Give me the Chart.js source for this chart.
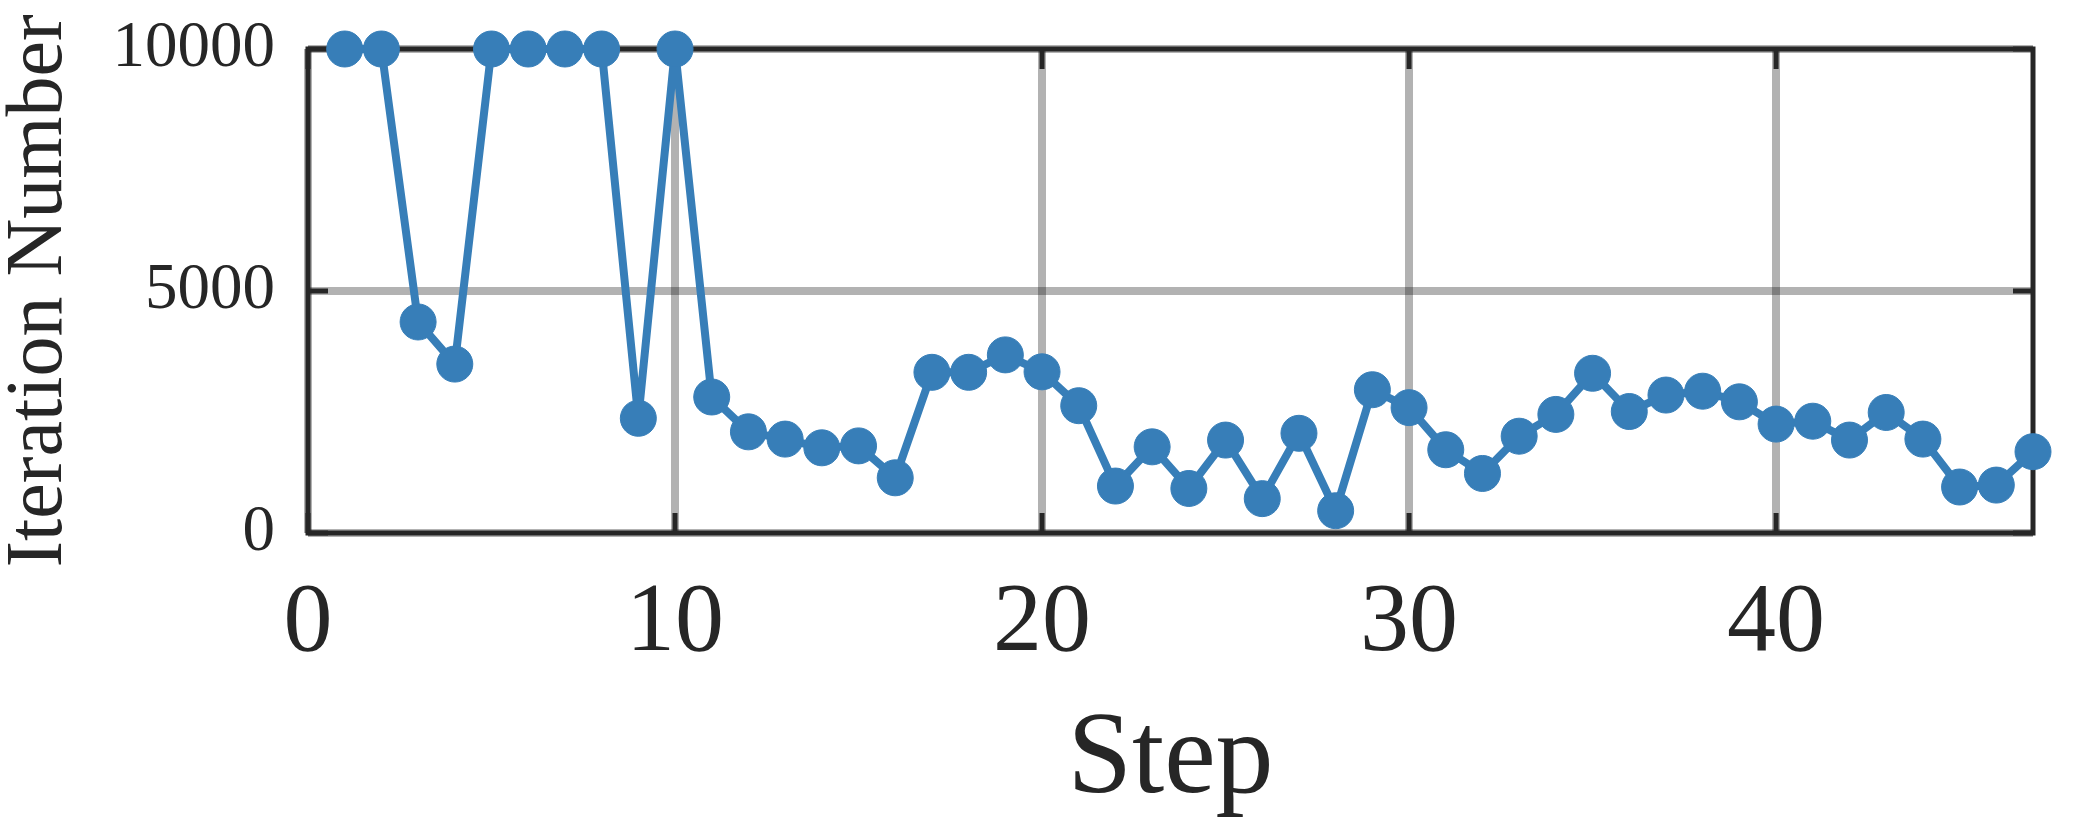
<!DOCTYPE html>
<html>
<head>
<meta charset="utf-8">
<script src="https://cdn.jsdelivr.net/npm/chart.js@4.4.1/dist/chart.umd.min.js"></script>
<style>
  html, body { margin: 0; padding: 0; background: #ffffff; }
  #wrap { width: 2083px; height: 833px; }
</style>
</head>
<body>
<div id="wrap"><canvas id="c" width="2083" height="833"></canvas></div>
<script>
const steps = [1,2,3,4,5,6,7,8,9,10,11,12,13,14,15,16,17,18,19,20,21,22,23,24,25,26,27,28,29,30,31,32,33,34,35,36,37,38,39,40,41,42,43,44,45,46,47];
const iterations = [10000,10000,4360,3490,10000,10000,10000,10000,2370,10000,
                    2810,2090,1940,1760,1800,1140,3320,3320,3680,3330,
                    2630,970,1780,920,1920,710,2060,460,2960,2590,
                    1720,1230,2000,2450,3300,2510,2850,2930,2710,2250,
                    2310,1920,2490,1940,950,990,1680];
const xTicks = [0,10,20,30,40];
const yTicks = [0,5000,10000];
const xTitle = 'Step';
const yTitle = 'Iteration Number';

const FONT = "'Liberation Serif', 'DejaVu Serif', serif";
const TEXT = '#262626';
const BLUE = '#377eb8';
const GRID = 'rgba(0,0,0,0.30)';

const framePlugin = {
  id: 'frame',
  beforeDatasetsDraw(chart) {
    const {ctx, chartArea: a, scales} = chart;
    ctx.save();
    ctx.strokeStyle = TEXT;
    ctx.lineWidth = 5;
    ctx.lineCap = 'butt';
    ctx.beginPath();
    xTicks.forEach(v => {
      const px = scales.x.getPixelForValue(v);
      ctx.moveTo(px, a.bottom); ctx.lineTo(px, a.bottom - 20);
      ctx.moveTo(px, a.top); ctx.lineTo(px, a.top + 20);
    });
    yTicks.forEach(v => {
      const py = scales.y.getPixelForValue(v);
      ctx.moveTo(a.left, py); ctx.lineTo(a.left + 20, py);
      ctx.moveTo(a.right, py); ctx.lineTo(a.right - 20, py);
    });
    ctx.stroke();
    ctx.strokeRect(a.left, a.top, a.right - a.left, a.bottom - a.top);
    ctx.restore();
  }
};

new Chart(document.getElementById('c'), {
  type: 'line',
  data: {
    datasets: [{
      data: steps.map((s, i) => ({x: s, y: iterations[i]})),
      borderColor: BLUE,
      backgroundColor: BLUE,
      pointBackgroundColor: BLUE,
      pointBorderColor: BLUE,
      borderWidth: 8,
      borderJoinStyle: 'round',
      borderCapStyle: 'round',
      pointRadius: 18,
      pointBorderWidth: 1,
      tension: 0,
      clip: false
    }]
  },
  options: {
    responsive: false,
    devicePixelRatio: 1,
    animation: false,
    events: [],
    layout: { padding: { top: 49, right: 50, left: 0, bottom: 0 } },
    plugins: { legend: { display: false }, tooltip: { enabled: false } },
    scales: {
      x: {
        type: 'linear',
        min: 0, max: 47,
        afterBuildTicks(scale) { scale.ticks = xTicks.map(v => ({value: v})); },
        afterFit(scale) { scale.height = 300; scale.paddingLeft = 0; scale.paddingRight = 0; },
        grid: { color: GRID, lineWidth: 8, drawTicks: false },
        border: { display: false },
        ticks: {
          color: TEXT, padding: 32, maxRotation: 0,
          font: { family: FONT, size: 98 }
        },
        title: {
          display: true, text: xTitle, color: TEXT,
          font: { family: FONT, size: 116, lineHeight: 1.2 },
          padding: { top: 0, bottom: 2 }
        }
      },
      y: {
        type: 'linear',
        min: 0, max: 10000,
        afterBuildTicks(scale) { scale.ticks = yTicks.map(v => ({value: v})); },
        afterFit(scale) { scale.width = 308; scale.paddingTop = 0; scale.paddingBottom = 0; },
        grid: { color: GRID, lineWidth: 8, drawTicks: false },
        border: { display: false },
        ticks: {
          color: TEXT, padding: 33,
          font: { family: FONT, size: 65 },
          callback: v => String(v)
        },
        title: {
          display: true, text: yTitle, color: TEXT,
          font: { family: FONT, size: 80, lineHeight: 1 },
          padding: { top: 0, bottom: 0 }
        }
      }
    }
  },
  plugins: [framePlugin]
});
</script>
</body>
</html>
